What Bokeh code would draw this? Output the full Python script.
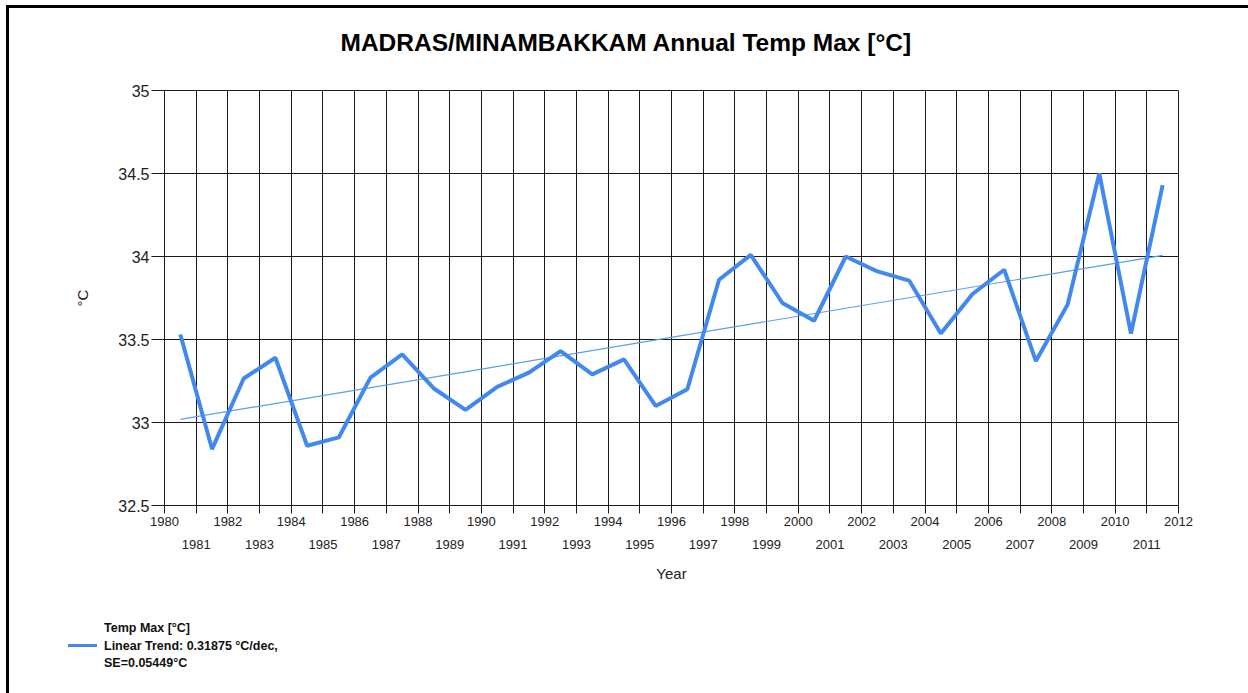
from bokeh.plotting import figure
from bokeh.layouts import column
from bokeh.models import FixedTicker, LinearAxis, Range1d, Title, Div
from bokeh.embed import file_html
from bokeh.resources import INLINE

# ---- data ----
years = list(range(1980, 2012))
temp_max = [33.53, 32.84, 33.265, 33.39, 32.86, 32.91, 33.27, 33.41, 33.205, 33.076,
            33.215, 33.30, 33.43, 33.29, 33.38, 33.10, 33.20, 33.86, 34.01, 33.72,
            33.613, 34.00, 33.91, 33.855, 33.536, 33.774, 33.92, 33.37, 33.71, 34.50,
            33.536, 34.43]
trend_per_decade = 0.31875
trend_se = 0.05449
x_ticks = list(range(1980, 2013))
odd_years = [y for y in x_ticks if y % 2 == 1]
y_ticks = [32.5, 33, 33.5, 34, 34.5, 35]
y_tick_labels = ["32.5", "33", "33.5", "34", "34.5", "35"]
title_text = "MADRAS/MINAMBAKKAM Annual Temp Max [°C]"
legend_lines = ["Temp Max [°C]",
                "Linear Trend: %s °C/dec," % trend_per_decade,
                "SE=%s°C" % trend_se]

BLUE = "#4189EE"
GRID = "#1a1a1a"
FONT = "Liberation Sans"

# mid-year positions
xs = [y + 0.5 for y in years]
mean_x = sum(xs) / len(xs)
mean_y = sum(temp_max) / len(temp_max)
slope = trend_per_decade / 10.0
trend_x = [xs[0], xs[-1]]
trend_y = [mean_y + slope * (v - mean_x) for v in trend_x]

p = figure(width=1240, height=600, output_backend="svg", toolbar_location=None,
           x_range=Range1d(1980, 2012), y_range=Range1d(32.5, 35),
           min_border_left=164, min_border_right=62, min_border_top=90, min_border_bottom=95)
p.background_fill_color = "white"
p.border_fill_color = "white"
p.outline_line_color = GRID
p.outline_line_width = 1

p.title.text = title_text
p.title.text_font = FONT
p.title.text_font_size = "24.5px"
p.title.text_font_style = "bold"
p.title.text_color = "black"
p.title.align = "left"
p.title.offset = 176
p.title.standoff = 24
# spacer between title and plot area
p.add_layout(Title(text=" ", text_font_size="1px", standoff=20), "above")

# grids
p.xgrid.ticker = FixedTicker(ticks=x_ticks)
p.ygrid.ticker = FixedTicker(ticks=y_ticks)
for g in (p.xgrid, p.ygrid):
    g.grid_line_color = GRID
    g.grid_line_width = 1
    g.grid_line_alpha = 1

# y axis
ya = p.yaxis[0]
ya.ticker = FixedTicker(ticks=y_ticks)
ya.major_label_overrides = {t: l for t, l in zip(y_ticks, y_tick_labels)}
ya.major_label_text_font = FONT
ya.major_label_text_font_size = "16px"
ya.major_label_text_color = "#222222"
ya.major_tick_out = 13
ya.major_tick_in = 0
ya.minor_tick_line_color = None
ya.major_tick_line_color = GRID
ya.axis_line_color = GRID
ya.major_label_standoff = 2
ya.axis_label = "°C"
ya.axis_label_text_font = FONT
ya.axis_label_text_font_size = "15px"
ya.axis_label_text_font_style = "normal"
ya.axis_label_text_color = "#222222"
ya.axis_label_standoff = 24

# x axis: even year labels
xa = p.xaxis[0]
xa.ticker = FixedTicker(ticks=x_ticks)
xa.major_label_overrides = {y: ("" if y % 2 else str(y)) for y in x_ticks}
xa.major_label_text_font = FONT
xa.major_label_text_font_size = "13px"
xa.major_label_text_color = "#222222"
xa.major_tick_out = 8
xa.major_tick_in = 0
xa.minor_tick_line_color = None
xa.major_tick_line_color = GRID
xa.axis_line_color = GRID
xa.major_label_standoff = 3

# second x axis: odd year labels
xa2 = LinearAxis(ticker=FixedTicker(ticks=odd_years))
xa2.major_label_overrides = {y: str(y) for y in odd_years}
xa2.major_label_text_font = FONT
xa2.major_label_text_font_size = "13px"
xa2.major_label_text_color = "#222222"
xa2.axis_line_color = None
xa2.major_tick_line_color = None
xa2.minor_tick_line_color = None
xa2.major_tick_out = 0
xa2.major_tick_in = 0
xa2.major_label_standoff = 11
xa2.axis_label = "Year"
xa2.axis_label_text_font = FONT
xa2.axis_label_text_font_size = "15px"
xa2.axis_label_text_font_style = "normal"
xa2.axis_label_text_color = "#222222"
xa2.axis_label_standoff = 13
p.add_layout(xa2, "below")

# lines
trend_r = p.line(trend_x, trend_y, line_color="#5c9cf2", line_width=1.2)
data_r = p.line(xs, temp_max, line_color=BLUE, line_width=4)

# legend strip below the chart, plus the outer frame edges (top and left)
legend_html = (
    '<div style="position:relative;width:1200px;height:75px;">'
    '<div style="position:fixed;left:6px;top:5px;width:1242px;height:3px;background:black;z-index:1000;"></div>'
    '<div style="position:fixed;left:6px;top:5px;width:3px;height:688px;background:black;z-index:1000;"></div>'
    '<div style="position:absolute;left:68px;top:44px;width:29px;height:3px;background:%s;"></div>'
    '<div style="position:absolute;left:104px;top:20px;line-height:17.5px;white-space:nowrap;'
    'font-family:\'%s\';font-weight:bold;font-size:12.5px;color:#111111;">%s</div>'
    '</div>'
) % (BLUE, FONT, "<br>".join(legend_lines))
legend_div = Div(text=legend_html, width=1200, height=75,
                 styles={"margin": "0", "padding": "0"})

layout = column(p, legend_div, spacing=0)

open("out.html", "w").write(file_html(layout, INLINE))
